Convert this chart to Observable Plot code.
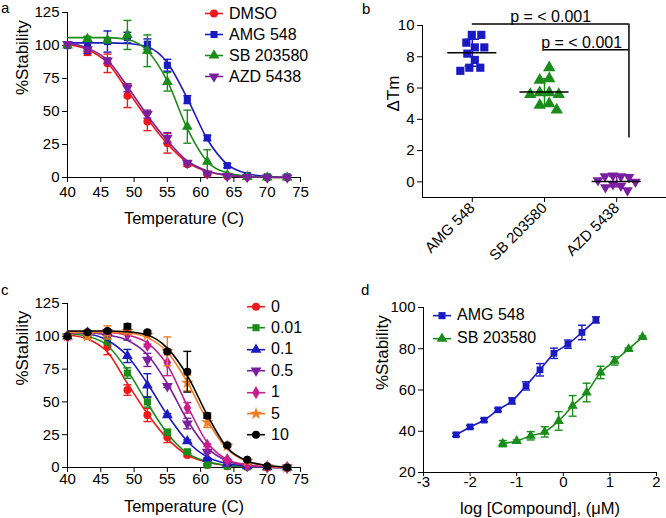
<!DOCTYPE html>
<html><head><meta charset="utf-8">
<script src="https://cdn.jsdelivr.net/npm/d3@7"></script>
<script src="https://cdn.jsdelivr.net/npm/@observablehq/plot@0.6"></script>
<style>
body{margin:0;background:#fff;font-family:"Liberation Sans",Arial,sans-serif;color:#000;}
#wrap{position:relative;width:666px;height:518px;overflow:hidden;background:#fff;}
.plab{position:absolute;font-size:15px;line-height:15px;}
.legend{position:absolute;font-size:16px;}
.legend .row{display:flex;align-items:center;white-space:nowrap;}
.legend svg{display:block;margin-right:6px;}
</style></head><body><div id="wrap"></div>
<script>
// ---------------- DATA ----------------
const temps = [40,43,46,49,52,55,58,61,64,67,70,73];
// panel a
const aNames = ["DMSO","AMG 548","SB 203580","AZD 5438"];
const dmsoMean = [100,95,86.5,62,42.5,26,10,2.5,1,0.3,0,0];
const dmsoErr  = [0,2.5,7,9,7,7.5,1.5,1,0.5,0,0,0];
const dmsoFit  = [101,97,87,66,44.5,25.5,11.5,4.5,1.5,0.5,0.2,0];
const amgMean  = [100,99,103,106,101,85,59,30,9,1.5,0.5,0.5];
const amgErr   = [0,5,8,4,4,4.5,3,2,1.5,0.5,0,0];
const amgFit   = [102,102,102,101.5,99,87,60,29,10,3,0.8,0.2];
const sbMean   = [100,105,104,108,96,72.5,38.5,12,2,0.5,0,0];
const sbErr    = [0,2,2,11,12,7,12.5,9,1,0,0,0];
const sbFit    = [106,106,106,104.5,96,73,37,12,3.5,1,0.3,0.1];
const azdMean  = [101,97,88.5,68,48,30,11,3,1,0.3,0,0];
const azdErr   = [0,1,2,3,3,4,1,0.5,0,0,0,0];
const azdFit   = [102,98,89,69,47,28,12.5,5,1.8,0.6,0.2,0.1];
// panel b
const bCats = ["AMG 548","SB 203580","AZD 5438"];
const amgTm = [9.4,9.4,8.9,8.6,8.6,8.2,7.8,7.3,7.3,7.1];
const sbTm  = [7.3,6.6,6.5,5.7,5.7,5.6,5.6,5.0,4.9,4.6];
const azdTm = [0.4,0.35,0.35,0.3,0.1,0.0,-0.15,-0.25,-0.35,-0.55];
const pLabels = ["p = < 0.001","p = < 0.001"];
const pFrom = ["AMG 548","SB 203580"];
const pTo = ["AZD 5438","AZD 5438"];
const pY = [10.1,8.45];
const pBottom = 2.8;
// panel c
const cNames = ["0","0.01","0.1","0.5","1","5","10"];
const c0Mean = [100,101,92,59,40,23,9.5,2,1,0.5,0,0];
const c0Err  = [0,2,6,4,5,4,1,0.5,0,0,0,0];
const c0Fit  = [101,98,88,64,41,22,9.5,4,1.5,0.5,0.2,0];
const c1Mean = [100,101,97,72,50,27,12,2,1,0.5,0,0];
const c1Err  = [0,1,3,4,4,2,1,0.5,0,0,0,0];
const c1Fit  = [102,100,93,74,49,26,11,4.5,1.5,0.5,0.2,0];
const c2Mean = [100,103,103,85,62.5,40,20,7,3,1,0.3,0];
const c2Err  = [0,1,1,5,9,1,1,0.5,0,0,0,0];
const c2Fit  = [103,102,97,85,64,40,20,8,3,1,0.3,0.1];
const c3Mean = [100,102,103,101,82,62,33.5,12,4,1,0.3,0];
const c3Err  = [0,1,2,4,5,1,4,1,0.5,0,0,0];
const c3Fit  = [103,103,101,97,86,64,36,15,5,1.5,0.5,0.1];
const c4Mean = [100,102,103,103,93,80,45.5,17,6,2,0.5,0];
const c4Err  = [0,1,1,1,1,10,4,1,0.5,0,0,0];
const c4Fit  = [103,103,103,101,95,78,47,19,6,2,0.5,0.1];
const c5Mean = [100,100,103,104,101,88.5,64.5,34.5,16.5,5,1,0];
const c5Err  = [0,2,5,2,1,11,6,4,1,0.5,0,0];
const c5Fit  = [103,103,103,102.5,99,88,65,36,14,4.5,1.2,0.3];
const c6Mean = [100,103,104,107.5,103,88.5,73,39.5,17,6,1,0];
const c6Err  = [0,1,1,2,1,1,15.5,2,1,0.5,0,0];
const c6Fit  = [104,104,104,103.5,101,91,70,40,15,5,1.5,0.4];
// panel d
const dNames = ["AMG 548","SB 203580"];
const dAmgX = [-2.3,-2.0,-1.7,-1.4,-1.1,-0.8,-0.5,-0.2,0.1,0.4,0.7];
const dAmgY = [38.3,42.1,45.4,50.4,54.7,62,69.8,77.8,82.2,87.9,94];
const dAmgE = [0.8,0.8,0.8,0.8,1.5,2,3,2.5,2,3.5,1.5];
const dSbX  = [-1.3,-1.0,-0.7,-0.4,-0.1,0.2,0.5,0.8,1.1,1.4,1.7];
const dSbY  = [34,35.3,37.8,39.7,45,52.3,58.8,68.5,74.1,79.8,85.7];
const dSbE  = [1.5,0.5,2,2.5,4.5,5,4.5,3,2,0.5,0.5];

// ---------------- STYLE ----------------
const FONT = '"Liberation Sans", Arial, sans-serif';
const RED="#f01818", BLUE="#1a1ac4", GREEN="#1a8c1a", PURPLE="#7a1fa0", MAG="#c81e8c", ORANGE="#f47a20", BLACK="#000";
const triDown = {draw(ctx, size){const y=-Math.sqrt(size/(Math.sqrt(3)*3));ctx.moveTo(0,-2*y);ctx.lineTo(-Math.sqrt(3)*y,y);ctx.lineTo(Math.sqrt(3)*y,y);ctx.closePath();}};
const capSym = {draw(ctx, size){const w=Math.sqrt(size/Math.PI);ctx.moveTo(-w,0);ctx.lineTo(w,0);}};
const wrap = document.getElementById("wrap");

function place(node, left, top){ node.style.position="absolute"; node.style.left=left+"px"; node.style.top=top+"px"; wrap.appendChild(node); }

function seriesMarks(xs, mean, err, fit, color, symbol, r){
  const pts = xs.map((x,i)=>({x, y:mean[i], e:err[i]}));
  const eb = pts.filter(d=>d.e>0);
  const marks = [];
  marks.push(Plot.line(fit ? xs.map((x,i)=>({x, y:fit[i]})) : pts, {x:"x", y:"y", stroke:color, strokeWidth:1.6, curve:"monotone-x"}));
  marks.push(Plot.ruleX(eb, {x:"x", y1:d=>d.y-d.e, y2:d=>d.y+d.e, stroke:color, strokeWidth:1.4}));
  marks.push(Plot.dot(eb, {x:"x", y:d=>d.y-d.e, symbol:capSym, r:4, fill:"none", stroke:color, strokeWidth:1.4}));
  marks.push(Plot.dot(eb, {x:"x", y:d=>d.y+d.e, symbol:capSym, r:4, fill:"none", stroke:color, strokeWidth:1.4}));
  marks.push(Plot.dot(pts, {x:"x", y:"y", symbol, r, fill:color, stroke:"none"}));
  return marks;
}

function axisTitles(xLabel, xOff, yLabel, yOff, ySize){
  return [
    Plot.text([xLabel], {text:d=>d, frameAnchor:"bottom", dy:xOff, lineAnchor:"bottom", fontSize:16.5}),
    Plot.text([yLabel], {text:d=>d, frameAnchor:"left", dx:-yOff, rotate:-90, lineAnchor:"top", fontSize:ySize})
  ];
}

function legend(names, colors, symbols, left, top, rowH){
  const div = document.createElement("div");
  div.className = "legend";
  names.forEach((n,i)=>{
    const row = document.createElement("div"); row.className="row"; row.style.height=rowH+"px";
    const s = d3.create("svg").attr("width",18).attr("height",rowH);
    s.append("line").attr("x1",0).attr("x2",18).attr("y1",rowH/2).attr("y2",rowH/2).attr("stroke",colors[i]).attr("stroke-width",1.6);
    s.append("path").attr("transform",`translate(9,${rowH/2})`).attr("d", d3.symbol(symbols[i], 16*Math.PI)()).attr("fill",colors[i]);
    row.appendChild(s.node());
    const t = document.createElement("span"); t.textContent=n; row.appendChild(t);
    div.appendChild(row);
  });
  place(div, left, top);
}

const baseStyle = {fontFamily:FONT, fontSize:"15px", color:"#000", background:"transparent", overflow:"visible"};

// ---------------- PANEL A ----------------
const aMeans=[dmsoMean,amgMean,sbMean,azdMean], aErrs=[dmsoErr,amgErr,sbErr,azdErr], aFits=[dmsoFit,amgFit,sbFit,azdFit];
const aColors=[RED,BLUE,GREEN,PURPLE];
const aSyms=[d3.symbolCircle,d3.symbolSquare,d3.symbolTriangle,triDown];
const plotA = Plot.plot({
  width:333, height:225, marginLeft:67, marginRight:33, marginTop:12, marginBottom:48,
  style:baseStyle,
  x:{domain:[40,75], ticks:d3.range(40,76,5), tickSize:5, tickPadding:4, label:null},
  y:{domain:[0,125], ticks:[0,25,50,75,100,125], tickSize:5, tickPadding:3, label:null},
  marks:[
    Plot.ruleX([40]), Plot.ruleY([0]),
    ...aNames.flatMap((n,i)=>seriesMarks(temps,aMeans[i],aErrs[i],aFits[i],aColors[i],aSyms[i],4)),
    ...axisTitles("Temperature (C)",46,"%Stability",52,17)
  ]
});
place(plotA,0,0);
legend(aNames,aColors,aSyms,205,3,21);

// ---------------- PANEL B ----------------
const bVals=[amgTm,sbTm,azdTm], bColors=[BLUE,GREEN,PURPLE], bSyms=[d3.symbolSquare,d3.symbolTriangle,triDown];
const PXX=72.2, PXY=15.64;
function swarm(values, idx, diam){
  const placed=[], res=[];
  const order=values.map((v,i)=>i).sort((a,b)=>values[b]-values[a]);
  order.forEach((i,k)=>{
    const py=values[i]*PXY; let best=null;
    const signs = k%2 ? [1,-1] : [-1,1];
    for(let s=0; s<200 && best===null; s+=0.5){
      for(const sg of (s===0?[1]:signs)){
        const px=sg*s;
        if(placed.every(p=>Math.hypot(p[0]-px,p[1]-py)>=diam)){best=px;break;}
      }
    }
    placed.push([best,py]);
    res.push({v:values[i], off:best});
  });
  const shift = (d3.max(res,d=>d.off)+d3.min(res,d=>d.off))/2;
  return res.map(d=>({cat:bCats[idx], v:d.v, x:idx+(d.off-shift)/PXX}));
}
const bStats = bVals.map((v,i)=>({i, mean:d3.mean(v), sd:d3.deviation(v)}));
const brackets = pLabels.map((l,k)=>({label:l, x1:bCats.indexOf(pFrom[k]), x2:bCats.indexOf(pTo[k])+0.17, y:pY[k]}));
const plotB = Plot.plot({
  width:333, height:260, marginLeft:89, marginRight:0, marginTop:25, marginBottom:63,
  style:baseStyle,
  x:{domain:[-0.69,2.69], ticks:[0,1,2], tickFormat:i=>bCats[i], tickRotate:-45, tickSize:5, tickPadding:3, label:null},
  y:{domain:[-1,10], ticks:[0,2,4,6,8,10], tickSize:5, tickPadding:3, label:null},
  marks:[
    Plot.ruleX([-0.69]), Plot.ruleY([-1]),
    ...bVals.map((v,i)=>Plot.dot(swarm(v,i,i===2?8:9.5), {x:"x", y:"v", symbol:bSyms[i], r:i===2?4:4.6, fill:bColors[i], stroke:"none"})),
    ...bStats.map(s=>Plot.ruleX([s], {x:"i", y1:d=>d.mean-d.sd, y2:d=>d.mean+d.sd, stroke:bColors[s.i], strokeWidth:1.5})),
    ...bStats.map(s=>Plot.ruleY([s], {y:d=>d.mean+d.sd, x1:d=>d.i-0.1, x2:d=>d.i+0.1, stroke:bColors[s.i], strokeWidth:1.5})),
    ...bStats.map(s=>Plot.ruleY([s], {y:d=>d.mean-d.sd, x1:d=>d.i-0.1, x2:d=>d.i+0.1, stroke:bColors[s.i], strokeWidth:1.5})),
    Plot.ruleY(bStats, {y:"mean", x1:d=>d.i-0.34, x2:d=>d.i+0.34, stroke:"#000", strokeWidth:1.5}),
    Plot.ruleY(brackets, {y:"y", x1:"x1", x2:"x2", stroke:"#000", strokeWidth:1.5}),
    Plot.ruleX([d3.max(brackets,d=>d.x2)], {x:d=>d, y1:pBottom, y2:d3.max(pY), stroke:"#000", strokeWidth:1.5}),
    Plot.text(brackets, {x:d=>(d.x1+d.x2)/2 - (d.x1>0?0.07:0), y:"y", text:"label", lineAnchor:"bottom", dy:-2, fontSize:16}),
    Plot.text(["ΔTm"], {text:d=>d, frameAnchor:"left", dx:-36, rotate:-90, lineAnchor:"top", fontSize:17})
  ]
});
place(plotB,333,0);

// ---------------- PANEL C ----------------
const cMeans=[c0Mean,c1Mean,c2Mean,c3Mean,c4Mean,c5Mean,c6Mean];
const cErrs=[c0Err,c1Err,c2Err,c3Err,c4Err,c5Err,c6Err];
const cFits=[c0Fit,c1Fit,c2Fit,c3Fit,c4Fit,c5Fit,c6Fit];
const cColors=[RED,GREEN,BLUE,PURPLE,MAG,ORANGE,BLACK];
const cSyms=[d3.symbolCircle,d3.symbolSquare,d3.symbolTriangle,triDown,d3.symbolDiamond,d3.symbolStar,d3.symbolCircle];
const plotC = Plot.plot({
  width:333, height:228, marginLeft:67, marginRight:33, marginTop:13, marginBottom:51,
  style:baseStyle,
  x:{domain:[40,75], ticks:d3.range(40,76,5), tickSize:5, tickPadding:1, label:null},
  y:{domain:[0,125], ticks:[0,25,50,75,100,125], tickSize:5, tickPadding:3, label:null},
  marks:[
    Plot.ruleX([40]), Plot.ruleY([0]),
    ...cNames.flatMap((n,i)=>seriesMarks(temps,cMeans[i],cErrs[i],cFits[i],cColors[i],cSyms[i],4)),
    ...axisTitles("Temperature (C)",44,"%Stability",52,17)
  ]
});
place(plotC,0,290);
legend(cNames,cColors,cSyms,247,296,21.4);

// ---------------- PANEL D ----------------
const plotD = Plot.plot({
  width:333, height:228, marginLeft:90, marginRight:10, marginTop:17, marginBottom:46,
  style:baseStyle,
  x:{domain:[-3,2], ticks:[-3,-2,-1,0,1,2], tickFormat:d=>String(d), tickSize:4, tickPadding:0, label:null},
  y:{domain:[20,100], ticks:[20,40,60,80,100], tickSize:5, tickPadding:3, label:null},
  marks:[
    Plot.ruleX([-3]), Plot.ruleY([20]),
    ...seriesMarks(dAmgX,dAmgY,dAmgE,null,BLUE,d3.symbolSquare,3.8),
    ...seriesMarks(dSbX,dSbY,dSbE,null,GREEN,d3.symbolTriangle,3.8),
    ...axisTitles("log [Compound], (μM)",41,"%Stability",48,17)
  ]
});
place(plotD,333,290);
legend(dNames,[BLUE,GREEN],[d3.symbolSquare,d3.symbolTriangle],433,303.5,23.3);

// ---------------- PANEL LETTERS ----------------
[["a",1,0],["b",362,1],["c",1,282],["d",361,282]].forEach(([t,l,tp])=>{
  const s=document.createElement("div"); s.className="plab"; s.textContent=t; place(s,l,tp);
});
</script></body></html>
